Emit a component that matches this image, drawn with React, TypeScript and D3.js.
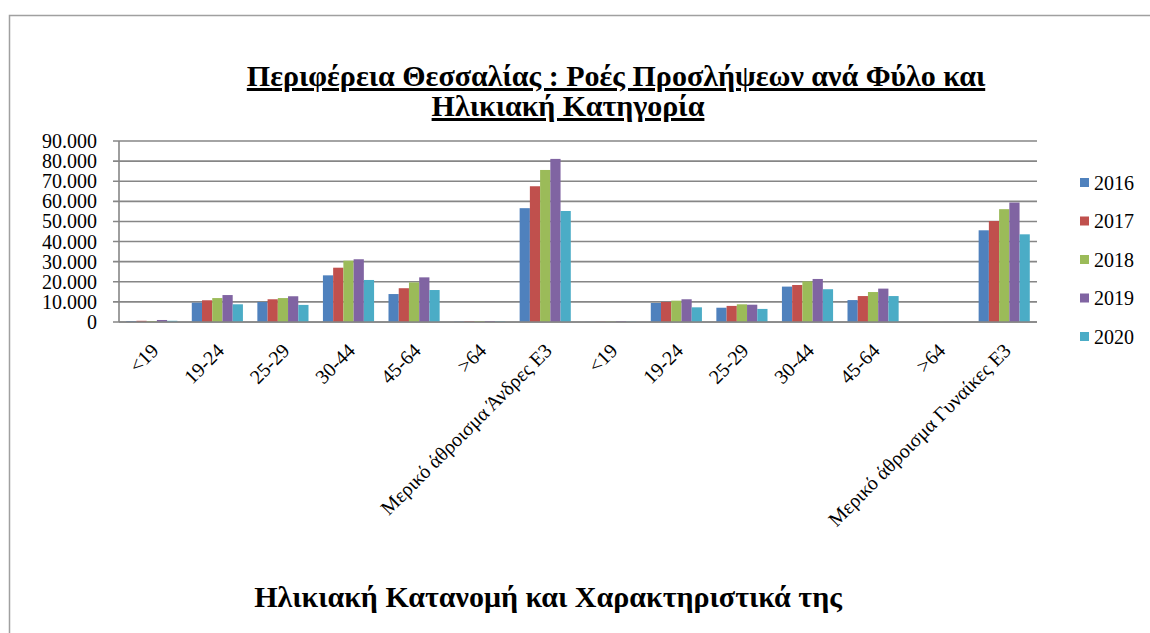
import React from "react";
import * as d3 from "d3";

const categories = ["<19", "19-24", "25-29", "30-44", "45-64", ">64", "Μερικό άθροισμα Άνδρες Ε3",
  "<19", "19-24", "25-29", "30-44", "45-64", ">64", "Μερικό άθροισμα Γυναίκες Ε3"];
const years = ["2016", "2017", "2018", "2019", "2020"];
const s2016 = [500, 9600, 9950, 23200, 13900, 200, 56600, 100, 9450, 7100, 17600, 10900, 50, 45600];
const s2017 = [600, 10800, 11300, 27000, 16800, 300, 67500, 150, 9950, 8000, 18400, 12900, 50, 50200];
const s2018 = [500, 11900, 11900, 30500, 19700, 400, 75600, 200, 10600, 8800, 20200, 14900, 60, 56100];
const s2019 = [1000, 13400, 12800, 31200, 22200, 500, 81100, 400, 11300, 8600, 21400, 16600, 80, 59400];
const s2020 = [600, 8800, 8500, 20900, 15900, 300, 55200, 150, 7300, 6500, 16300, 12900, 50, 43600];
const series = [s2016, s2017, s2018, s2019, s2020];
const colors = ["#4F81BD", "#C0504D", "#9BBB59", "#8064A2", "#4BACC6"];
const yTicks = [0, 10000, 20000, 30000, 40000, 50000, 60000, 70000, 80000, 90000];
const titleLines = ["Περιφέρεια Θεσσαλίας : Ροές Προσλήψεων ανά Φύλο και", "Ηλικιακή Κατηγορία"];
const xTitle = "Ηλικιακή Κατανομή και Χαρακτηριστικά της";

const fmt = (v: number) => (v === 0 ? "0" : d3.format(",")(v).replace(/,/g, "."));

export default function App() {
  const W = 1150, H = 633;
  const left = 119, right = 1037, top = 141, bottom = 322;
  const x = d3.scaleBand<number>().domain(d3.range(categories.length)).range([left, right]).paddingInner(0.22).paddingOuter(0.11);
  const xi = d3.scaleBand<number>().domain(d3.range(years.length)).range([0, x.bandwidth()]);
  const y = d3.scaleLinear().domain([0, 90000]).range([bottom, top]);
  const font = "'Liberation Serif', 'Times New Roman', serif";
  const grid = "#868686";
  return (
    <svg width={W} height={H} style={{ position: "absolute", left: 0, top: 0, background: "#fff" }} fontFamily={font}>
      <rect x={0} y={0} width={W} height={H} fill="#fff" />
      <path d={`M9.5,${H + 2}V15.5H${W + 2}`} fill="none" stroke="#a0a0a0" strokeWidth={1.5} />
      {titleLines.map((t, i) => (
        <text key={i} x={i === 0 ? 616 : 568} y={86 + i * 30} textAnchor="middle" fontSize={30} fontWeight="bold" textDecoration="underline">{t}</text>
      ))}
      {yTicks.map((t) => (
        <g key={t}>
          <line x1={left - 6} x2={right} y1={y(t)} y2={y(t)} stroke={grid} strokeWidth={1.6} />
          <text x={97} y={y(t)} dy="0.35em" textAnchor="end" fontSize={20}>{fmt(t)}</text>
        </g>
      ))}
      <line x1={left} x2={left} y1={top} y2={bottom} stroke={grid} strokeWidth={1.6} />
      {series.map((s, si) => (
        <g key={si} fill={colors[si]}>
          {s.map((v, ci) => (
            <rect key={ci} x={(x(ci) as number) + (xi(si) as number)} y={y(v)} width={xi.bandwidth()} height={bottom - y(v)} />
          ))}
        </g>
      ))}
      <line x1={left} x2={right} y1={bottom} y2={bottom} stroke={grid} strokeWidth={1.6} />
      {categories.map((c, ci) => {
        const cx = (x(ci) as number) + x.bandwidth() / 2;
        return (
          <text key={ci} transform={`translate(${cx + 3},347) rotate(-45)`} dy="0.35em" textAnchor="end" fontSize={20}>{c}</text>
        );
      })}
      {years.map((yr, i) => (
        <g key={yr}>
          <rect x={1080} y={178 + i * 38.5} width={9} height={9} fill={colors[i]} />
          <text x={1094} y={182.5 + i * 38.5} dy="0.35em" fontSize={20}>{yr}</text>
        </g>
      ))}
      <text x={548} y={607} textAnchor="middle" fontSize={30} fontWeight="bold">{xTitle}</text>
    </svg>
  );
}
